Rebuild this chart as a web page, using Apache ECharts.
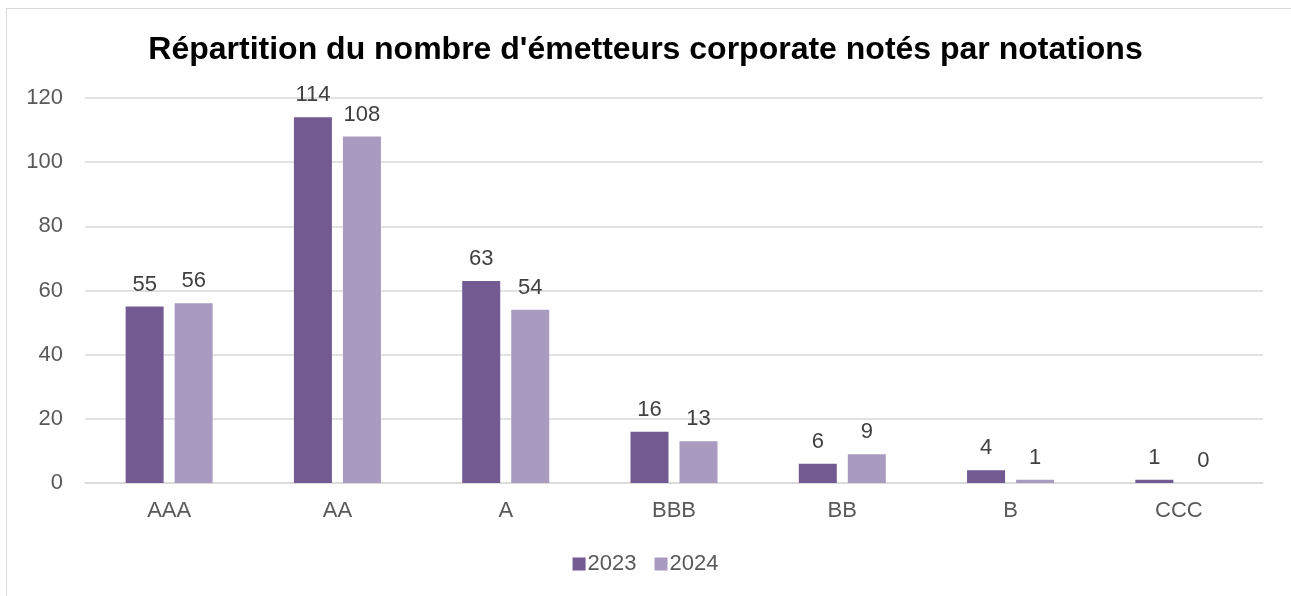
<!DOCTYPE html>
<html>
<head>
<meta charset="utf-8">
<script src="https://cdn.jsdelivr.net/npm/echarts@6/dist/echarts.min.js"></script>
<style>
  html, body { margin: 0; padding: 0; background: #fff; }
  #frame { position: absolute; left: 6px; top: 8px; width: 1400px; height: 700px; border: 1px solid #d9d9d9; }
  #main { position: absolute; left: 0; top: 0; width: 1291px; height: 596px; }
</style>
</head>
<body>
<div id="frame"></div>
<div id="main"></div>
<script>
const categories = ['AAA', 'AA', 'A', 'BBB', 'BB', 'B', 'CCC']
const values2023 = [55, 114, 63, 16, 6, 4, 1]
const values2024 = [56, 108, 54, 13, 9, 1, 0]
const yTicks = [0, 20, 40, 60, 80, 100, 120]

const fontFamily = '"Liberation Sans", Arial, sans-serif'

const chart = echarts.init(document.getElementById('main'))

const labelStyle = {
  show: true,
  position: 'top',
  distance: 11,
  color: '#404040',
  fontSize: 22,
  fontFamily: fontFamily
}

chart.setOption({
  animation: false,
  title: {
    text: "Répartition du nombre d'émetteurs corporate notés par notations",
    left: 'center',
    top: 29,
    textStyle: {
      color: '#000',
      fontSize: 32,
      fontWeight: 'bold',
      fontFamily: fontFamily
    }
  },
  legend: {
    top: 548,
    left: 'center',
    itemWidth: 13,
    itemHeight: 13,
    itemGap: 18,
    icon: 'rect',
    textStyle: { color: '#595959', fontSize: 22, fontFamily: fontFamily, padding: [0, 0, 0, -3] },
    data: ['2023', '2024']
  },
  grid: {
    left: 85,
    right: 28,
    top: 98,
    bottom: 113,
    containLabel: false
  },
  xAxis: {
    type: 'category',
    data: categories,
    axisTick: { show: false },
    axisLine: { lineStyle: { color: '#d9d9d9', width: 1.5 } },
    axisLabel: { color: '#595959', fontSize: 22, margin: 17, fontFamily: fontFamily }
  },
  yAxis: {
    type: 'value',
    min: yTicks[0],
    max: yTicks[yTicks.length - 1],
    interval: 20,
    axisLine: { show: false },
    axisTick: { show: false },
    axisLabel: { color: '#595959', fontSize: 22, margin: 22, fontFamily: fontFamily },
    splitLine: { lineStyle: { color: '#d9d9d9', width: 1.5 } }
  },
  series: [{
    name: '2023',
    type: 'bar',
    data: values2023,
    barWidth: 38,
    barGap: '29%',
    itemStyle: { color: '#735a92' },
    label: labelStyle
  }, {
    name: '2024',
    type: 'bar',
    data: values2024,
    barWidth: 38,
    itemStyle: { color: '#a99bc0' },
    label: labelStyle
  }]
})
</script>
</body>
</html>
